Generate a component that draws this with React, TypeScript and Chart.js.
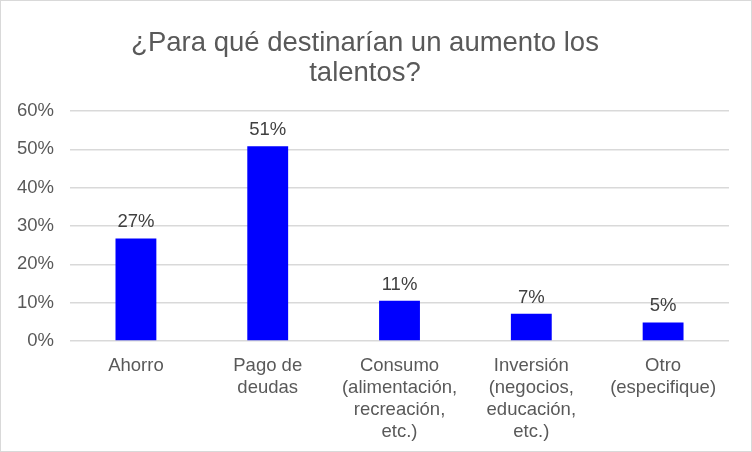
import { useEffect, useRef } from 'react'
import { Chart, ChartConfiguration, Plugin, registerables } from 'chart.js'

Chart.register(...registerables)

const titleLines = ['¿Para qué destinarían un aumento los', 'talentos?']
const categories = [
  ['Ahorro'],
  ['Pago de', 'deudas'],
  ['Consumo', '(alimentación,', 'recreación,', 'etc.)'],
  ['Inversión', '(negocios,', 'educación,', 'etc.)'],
  ['Otro', '(especifique)'],
]
const shares = [26.7, 50.8, 10.5, 7.1, 4.8]
const shareLabels = ['27%', '51%', '11%', '7%', '5%']
const yTicks = [0, 10, 20, 30, 40, 50, 60]

const FONT = "Arial, 'Liberation Sans', sans-serif"
const TEXT = '#595959'

// etiquetas de datos encima de cada barra
const barLabels: Plugin<'bar'> = {
  id: 'barLabels',
  afterDatasetsDraw(chart) {
    const { ctx } = chart
    const meta = chart.getDatasetMeta(0)
    ctx.save()
    ctx.font = `18.5px ${FONT}`
    ctx.fillStyle = '#404040'
    ctx.textAlign = 'center'
    ctx.textBaseline = 'bottom'
    meta.data.forEach((bar, i) => {
      ctx.fillText(shareLabels[i], bar.x, bar.y - 7)
    })
    ctx.restore()
  },
}

export default function App() {
  const canvasRef = useRef<HTMLCanvasElement>(null)
  const chartRef = useRef<Chart | null>(null)

  useEffect(() => {
    document.body.style.margin = '0'
    if (!canvasRef.current) return
    const ctx = canvasRef.current.getContext('2d')
    if (!ctx) return

    chartRef.current?.destroy()

    const config: ChartConfiguration<'bar'> = {
      type: 'bar',
      data: {
        labels: categories,
        datasets: [
          {
            data: shares,
            backgroundColor: '#0000FF',
            barPercentage: 0.62,
            categoryPercentage: 0.5,
          },
        ],
      },
      options: {
        animation: false,
        responsive: true,
        maintainAspectRatio: false,
        layout: { padding: { left: 0, right: 22, top: 0, bottom: 2 } },
        plugins: {
          legend: { display: false },
          tooltip: { enabled: false },
          title: {
            display: true,
            text: titleLines,
            color: TEXT,
            font: { family: FONT, size: 27.5, weight: 'normal', lineHeight: 1.09 },
            padding: { top: 27, bottom: 23 },
          },
        },
        scales: {
          x: {
            grid: { display: false },
            border: { display: false },
            ticks: {
              color: TEXT,
              font: { family: FONT, size: 18.5, lineHeight: 1.19 },
              maxRotation: 0,
              autoSkip: false,
              padding: 6,
            },
          },
          y: {
            min: 0,
            max: 60,
            afterBuildTicks: (axis) => {
              axis.ticks = yTicks.map((v) => ({ value: v }))
            },
            grid: { color: '#D9D9D9', lineWidth: 1.5, drawTicks: false },
            border: { display: false },
            ticks: {
              color: TEXT,
              font: { family: FONT, size: 18.5 },
              padding: 16,
              callback: (v) => `${v}%`,
            },
          },
        },
      },
      plugins: [barLabels],
    }

    chartRef.current = new Chart(ctx, config)
    return () => {
      chartRef.current?.destroy()
      chartRef.current = null
    }
  }, [])

  return (
    <div
      style={{
        width: 752,
        height: 452,
        boxSizing: 'border-box',
        border: '1.5px solid #D9D9D9',
        background: '#fff',
        position: 'relative',
      }}
    >
      <canvas ref={canvasRef} />
    </div>
  )
}
